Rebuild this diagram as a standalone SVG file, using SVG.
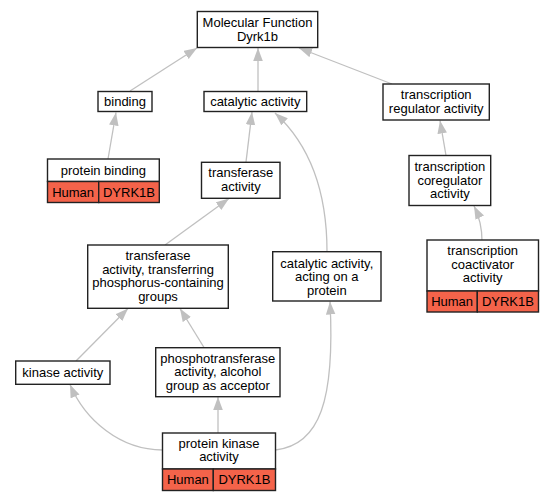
<svg xmlns="http://www.w3.org/2000/svg" width="555" height="501" viewBox="0 0 555 501">
<defs>
<style>
.box{fill:#ffffff;stroke:#222222;stroke-width:1.4}
.red{fill:#f4634a;stroke:#222222;stroke-width:1.4}
text{font-family:"Liberation Sans",Arial,sans-serif;font-size:13px;fill:#000000;text-anchor:middle}
.e{fill:none;stroke:#c0c0c0;stroke-width:1.3;marker-end:url(#ah)}
</style>
<marker id="ah" markerUnits="userSpaceOnUse" markerWidth="14" markerHeight="10" refX="13" refY="4.8" orient="auto">
<path d="M0,0 L13,4.8 L0,9.6 z" fill="#c0c0c0"/>
</marker>
</defs>
<rect width="555" height="501" fill="#ffffff"/>
<g id="edges">
<path class="e" d="M130,91 L197,48"/>
<path class="e" d="M258,91.5 L258,48"/>
<path class="e" d="M392,84 L299,48"/>
<path class="e" d="M108,159 L116,112.5"/>
<path class="e" d="M246,162 L252,112"/>
<path class="e" d="M327,251.7 C327,190 310,145 275,113"/>
<path class="e" d="M446,155.5 L440,120.5"/>
<path class="e" d="M482,241 C482,228 479,216 474,206"/>
<path class="e" d="M165,245 L229,198.5"/>
<path class="e" d="M76,361 L128,308.5"/>
<path class="e" d="M204,347.5 L180,308.5"/>
<path class="e" d="M162.5,450 C120,450 85,420 70,384.5"/>
<path class="e" d="M218,433 L218,397"/>
<path class="e" d="M275.5,450 C320,445 335,400 330,301.5"/>
</g>
<g id="mf">
<rect class="box" x="197.3" y="11.5" width="120.4" height="36"/>
<text x="257.5" y="27">Molecular Function</text>
<text x="257.5" y="40.5">Dyrk1b</text>
</g>
<g id="binding">
<rect class="box" x="98" y="91.5" width="54" height="20"/>
<text x="125" y="106">binding</text>
</g>
<g id="catalytic">
<rect class="box" x="204" y="91.5" width="102.7" height="20"/>
<text x="255.3" y="106">catalytic activity</text>
</g>
<g id="regulator">
<rect class="box" x="383" y="84" width="106.3" height="36"/>
<text x="436.2" y="99.3">transcription</text>
<text x="436.2" y="112.8">regulator activity</text>
</g>
<g id="proteinbinding">
<rect class="box" x="47.5" y="159" width="111.8" height="22.5"/>
<rect class="red" x="47.5" y="181.5" width="51.2" height="21"/>
<rect class="red" x="98.7" y="181.5" width="60.6" height="21"/>
<text x="103.4" y="174.5">protein binding</text>
<text x="73.1" y="196.5">Human</text>
<text x="129" y="196.5">DYRK1B</text>
</g>
<g id="transferase">
<rect class="box" x="201.5" y="162.3" width="78.5" height="36"/>
<text x="240.8" y="177.3">transferase</text>
<text x="240.8" y="190.8">activity</text>
</g>
<g id="coregulator">
<rect class="box" x="409" y="155.5" width="81.7" height="50"/>
<text x="449.9" y="171">transcription</text>
<text x="449.9" y="184.5">coregulator</text>
<text x="449.9" y="198">activity</text>
</g>
<g id="transferring">
<rect class="box" x="87.7" y="245" width="140.6" height="63.3"/>
<text x="158" y="260">transferase</text>
<text x="158" y="273.5">activity, transferring</text>
<text x="158" y="287">phosphorus-containing</text>
<text x="158" y="300.5">groups</text>
</g>
<g id="acting">
<rect class="box" x="272.7" y="251.7" width="108.3" height="49.3"/>
<text x="326.8" y="267.5">catalytic activity,</text>
<text x="326.8" y="281">acting on a</text>
<text x="326.8" y="294.5">protein</text>
</g>
<g id="coactivator">
<rect class="box" x="427" y="240" width="111.5" height="51"/>
<rect class="red" x="427" y="291" width="50.3" height="21"/>
<rect class="red" x="477.3" y="291" width="61.2" height="21"/>
<text x="482.7" y="255.3">transcription</text>
<text x="482.7" y="268.8">coactivator</text>
<text x="482.7" y="282.3">activity</text>
<text x="452.1" y="306">Human</text>
<text x="507.9" y="306">DYRK1B</text>
</g>
<g id="kinase">
<rect class="box" x="15.7" y="361" width="94.3" height="23.3"/>
<text x="62.8" y="377">kinase activity</text>
</g>
<g id="phospho">
<rect class="box" x="155.7" y="347.7" width="124.3" height="49"/>
<text x="217.8" y="362.8">phosphotransferase</text>
<text x="217.8" y="376.3">activity, alcohol</text>
<text x="217.8" y="389.8">group as acceptor</text>
</g>
<g id="proteinkinase">
<rect class="box" x="162.5" y="433" width="113" height="36"/>
<rect class="red" x="162.5" y="469" width="50.8" height="21.5"/>
<rect class="red" x="213.3" y="469" width="62.2" height="21.5"/>
<text x="219" y="447.8">protein kinase</text>
<text x="219" y="461.3">activity</text>
<text x="187.9" y="484.3">Human</text>
<text x="244.4" y="484.3">DYRK1B</text>
</g>
</svg>
